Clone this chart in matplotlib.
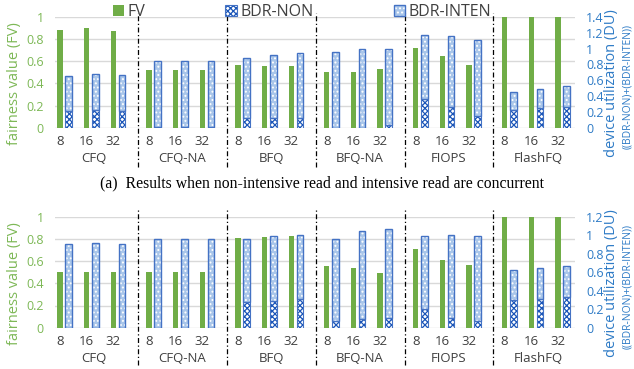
import numpy as np
import matplotlib
matplotlib.use('Agg')
import matplotlib.pyplot as plt
from matplotlib.patches import Patch
from matplotlib.transforms import blended_transform_factory

plt.rcParams['font.family'] = ['Open Sans', 'DejaVu Sans']
plt.rcParams['hatch.linewidth'] = 0.9

##################### data #####################
groups = ['CFQ', 'CFQ-NA', 'BFQ', 'BFQ-NA', 'FIOPS', 'FlashFQ']
subs = ['8', '16', '32']

# (a) non-intensive read + intensive read
fv_a = [0.88, 0.90, 0.875, 0.52, 0.52, 0.52, 0.565, 0.56, 0.555,
        0.505, 0.505, 0.53, 0.715, 0.645, 0.565, 1.0, 1.0, 1.0]
non_a = [0.21, 0.225, 0.21, 0.01, 0.01, 0.01, 0.13, 0.125, 0.125,
         0.005, 0.005, 0.04, 0.37, 0.27, 0.15, 0.23, 0.25, 0.27]
inten_a = [0.45, 0.455, 0.455, 0.83, 0.83, 0.83, 0.745, 0.795, 0.82,
           0.945, 0.99, 0.955, 0.80, 0.885, 0.955, 0.22, 0.24, 0.26]

# (b) second scenario
fv_b = [0.5, 0.5, 0.5, 0.5, 0.5, 0.5, 0.805, 0.815, 0.83,
        0.552, 0.534, 0.496, 0.71, 0.606, 0.564, 1.0, 1.0, 1.0]
non_b = [0.0, 0.0, 0.0, 0.0, 0.0, 0.0, 0.28, 0.29, 0.31,
         0.07, 0.09, 0.11, 0.197, 0.11, 0.07, 0.30, 0.315, 0.333]
inten_b = [0.91, 0.92, 0.91, 0.955, 0.955, 0.955, 0.68, 0.70, 0.69,
           0.886, 0.95, 0.96, 0.793, 0.897, 0.926, 0.327, 0.335, 0.337]

fv_ticks = [0, 0.2, 0.4, 0.6, 0.8, 1.0]
fv_ticklabels = ['0', '0.2', '0.4', '0.6', '0.8', '1']
du_ticks_a = [0, 0.2, 0.4, 0.6, 0.8, 1.0, 1.2, 1.4]
du_ticklabels_a = ['0', '0.2', '0.4', '0.6', '0.8', '1', '1.2', '1.4']
du_ticks_b = [0, 0.2, 0.4, 0.6, 0.8, 1.0, 1.2]
du_ticklabels_b = ['0', '0.2', '0.4', '0.6', '0.8', '1', '1.2']

caption_a = '(a)  Results when non-intensive read and intensive read are concurrent'

##################### style #####################
GREEN = '#70AD47'
GREEN_TXT = '#7DB856'
BLUE_TXT = '#2E7BC6'
NAVY = '#1A55B8'
LIGHT = '#A9C6EA'
EDGE = '#4472C4'
GRAY = '#404040'

W, H = 634, 369
fig = plt.figure(figsize=(W / 100, H / 100), dpi=100)

n = len(groups) * len(subs)
idx = np.arange(n)
x = idx + 0.33 * (idx // 3)          # extra gap between groups
seps = [(x[3 * g - 1] + x[3 * g]) / 2 + 0.25 for g in range(1, len(groups))]
gcent = [x[3 * g + 1] + 0.25 for g in range(len(groups))]


def panel(top_px, bot_px, fv, non, inten, du_max, du_ticks, du_labels, sep_top, sep_bot):
    rect = [55 / W, 1 - bot_px / H, 520 / W, (bot_px - top_px) / H]
    ax = fig.add_axes(rect)
    ax2 = ax.twinx()
    ax.set_xlim(-0.19, 19.29)
    ax.set_ylim(0, 1)
    ax2.set_ylim(0, du_max)

    ax.bar(x, fv, 0.2, color=GREEN, zorder=3)
    ax2.bar(x + 0.325, non, 0.25, color='white', edgecolor=NAVY, hatch='xxxxxx', lw=0)
    ax2.bar(x + 0.325, non, 0.25, fill=False, edgecolor=EDGE, lw=0.8)
    ax2.bar(x + 0.325, inten, 0.25, bottom=non, color=LIGHT, edgecolor='white',
            hatch='....', lw=0)
    ax2.bar(x + 0.325, inten, 0.25, bottom=non, fill=False, edgecolor=EDGE, lw=1)

    ax.set_yticks(fv_ticks, fv_ticklabels)
    ax.grid(axis='y', color='#D9D9D9', lw=1)
    ax.set_axisbelow(True)
    ax2.set_yticks(du_ticks, du_labels)

    ax.set_xticks(x, subs * len(groups))
    ax.tick_params(axis='x', length=0, pad=5, labelsize=9.5, labelcolor=GRAY)
    ax.tick_params(axis='y', length=0, pad=8, labelsize=9, labelcolor=GREEN_TXT)
    ax2.tick_params(axis='y', length=0, pad=8, labelsize=9, labelcolor=BLUE_TXT)
    for a in (ax, ax2):
        for s in a.spines.values():
            s.set_visible(False)

    tr = blended_transform_factory(ax.transData, ax.transAxes)
    for xs in seps:
        ax.plot([xs, xs], [sep_bot, sep_top], transform=tr, color='black', lw=0.9,
                linestyle=(0, (4, 2, 1, 2)), clip_on=False, zorder=5)
    for xc, g in zip(gcent, groups):
        ax.text(xc, -0.275, g, transform=tr, ha='center', va='center',
                fontsize=9.5, color=GRAY)

    mid = (top_px + bot_px) / 2 + 11
    fig.text(15 / W, 1 - mid / H, 'fairness value (FV)', rotation=90, ha='center',
             va='center', fontsize=10.5, color=GREEN_TXT)
    fig.text(611 / W, 1 - mid / H, 'device utilization (DU)', rotation=90, ha='center',
             va='center', fontsize=10.5, color=BLUE_TXT)
    fig.text(628 / W, 1 - (mid + 3) / H, '((BDR-NON)+(BDR-INTEN))', rotation=90,
             ha='center', va='center', fontsize=7.5, color=BLUE_TXT)
    return ax


ax_a = panel(16.7, 128, fv_a, non_a, inten_a, 1.4, du_ticks_a, du_ticklabels_a, 1.035, -0.35)
ax_b = panel(216.7, 327.7, fv_b, non_b, inten_b, 1.2, du_ticks_b, du_ticklabels_b, 1.06, -0.34)

fig.text(322 / W, 1 - 183 / H, caption_a, ha='center', va='center',
         family='Liberation Serif', fontsize=11.3, color='black')

h_fv = Patch(facecolor=GREEN, edgecolor=GREEN, lw=0)
h_non = (Patch(facecolor='white', edgecolor=NAVY, hatch='xxxxxx', lw=0),
         Patch(fill=False, edgecolor=EDGE, lw=0.8))
h_int = (Patch(facecolor=LIGHT, edgecolor='white', hatch='....', lw=0),
         Patch(fill=False, edgecolor=EDGE, lw=1))
fig.legend([h_fv, h_non, h_int], ['FV', 'BDR-NON', 'BDR-INTEN'], loc='center',
           bbox_to_anchor=(302 / W, 1 - 12 / H), ncol=3, frameon=False,
           fontsize=11.5, handlelength=0.7, handleheight=0.7,
           handletextpad=0.25, columnspacing=5.0, borderpad=0,
           labelcolor=GRAY)

fig.savefig('out.png', dpi=100)
